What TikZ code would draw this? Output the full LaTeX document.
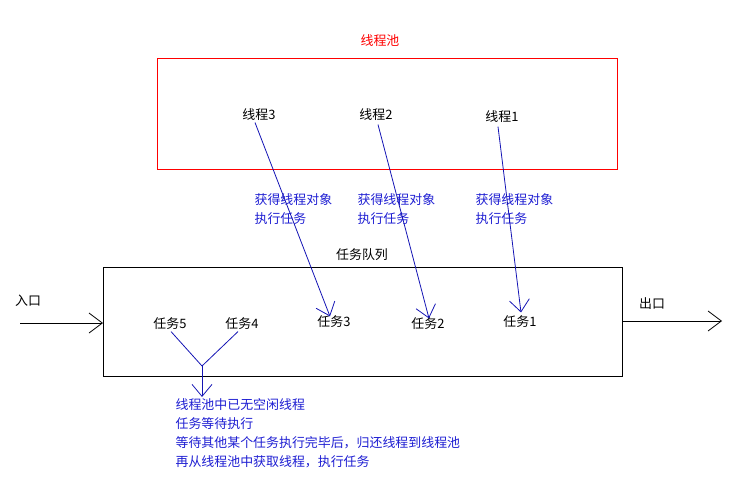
\documentclass[tikz,border=0pt]{standalone}
\usepackage{fontspec}
\setmainfont{Noto Sans CJK SC}
\usetikzlibrary{arrows.meta,calc}
\definecolor{lineblue}{RGB}{20,20,180}
\definecolor{textblue}{RGB}{30,30,210}
\tikzset{
  lbl/.style={inner sep=1pt, font=\fontsize{9.7pt}{12pt}\selectfont},
  bluelbl/.style={lbl, text=textblue, align=left, anchor=north west, font=\fontsize{9.7pt}{14pt}\selectfont},
  bluearrow/.style={draw=lineblue, line width=0.6pt, -{Straight Barb[length=9pt,width=15pt]}},
  bluelink/.style={draw=lineblue, line width=0.6pt},
  blackarrow/.style={draw=black, line width=0.6pt, -{Straight Barb[length=10pt,width=15pt]}}
}
\begin{document}
\begin{tikzpicture}[x=0.75pt,y=-0.75pt]
\useasboundingbox (0,0) rectangle (740,503);
% thread pool
\node[lbl, text=red] (pooltitle) at (380,41) {线程池};
\draw[red, line width=0.6pt] (157,58) rectangle (617,169);
\node[lbl] (t3) at (259,115) {线程3};
\node[lbl] (t2) at (376,115) {线程2};
\node[lbl] (t1) at (502,117) {线程1};
% task queue
\node[lbl] (qtitle) at (362,255) {任务队列};
\node[draw=black, line width=0.6pt, minimum width=519*0.75pt, minimum height=109*0.75pt, inner sep=0pt, anchor=north west] (q) at (103,267) {};
\node[lbl] (k5) at (170,324) {任务5};
\node[lbl] (k4) at (242,324) {任务4};
\node[lbl] (k3) at (334,322) {任务3};
\node[lbl] (k2) at (428,324) {任务2};
\node[lbl] (k1) at (520,322) {任务1};
% blue descriptions
\node[bluelbl] (d3) at (253,192) {获得线程对象\\执行任务};
\node[bluelbl] (d2) at (356,192) {获得线程对象\\执行任务};
\node[bluelbl] (d1) at (474,192) {获得线程对象\\执行任务};
% thread -> task arrows
\draw[bluearrow] ($(t3.south)+(-4,0)$) -- ($(k3.north)+(-4,2)$);
\draw[bluearrow] ($(t2.south)+(2,2)$) -- ($(k2.north)+(1,2)$);
\draw[bluearrow] ($(t1.south)+(-4,2)$) -- ($(k1.north)+(1,-2)$);
% waiting tasks
\coordinate (j) at (202,366);
\draw[bluelink] ($(k5.south)+(1,0)$) -- (j);
\draw[bluelink] ($(k4.south)+(-4,0)$) -- (j);
\node[bluelbl, font=\fontsize{9.7pt}{14.2pt}\selectfont] (wait) at (174,397) {线程池中已无空闲线程\\任务等待执行\\等待其他某个任务执行完毕后，归还线程到线程池\\再从线程池中获取线程，执行任务};
\draw[bluearrow] (j) -- (j |- wait.north);
% entry / exit
\node[lbl] (inlbl) at (28,301) {入口};
\node[lbl] (outlbl) at (652,304) {出口};
\coordinate (inpt) at (20,323);
\coordinate (outpt) at (722,321);
\draw[blackarrow] (inpt) -- (q.west |- inpt);
\draw[blackarrow] (q.east |- outpt) -- (outpt);
\end{tikzpicture}
\end{document}
